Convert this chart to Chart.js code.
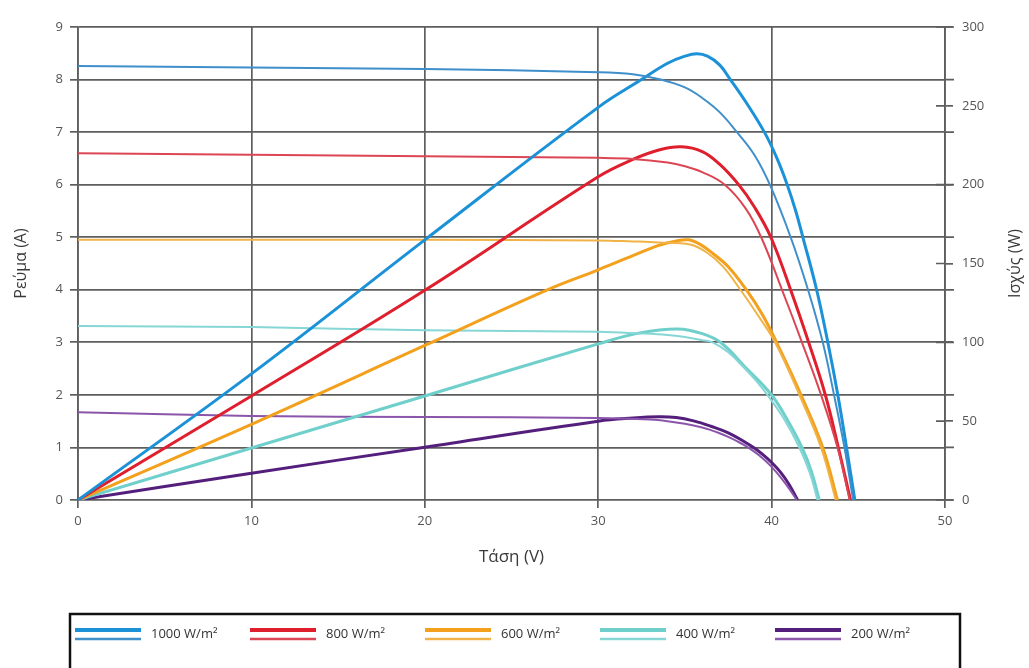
<!DOCTYPE html>
<html>
<head>
<meta charset="utf-8">
<script src="https://cdn.jsdelivr.net/npm/chart.js@4.4.0/dist/chart.umd.min.js"></script>
<style>
  html, body { margin: 0; padding: 0; background: #fff; }
  #wrap { width: 1029px; height: 668px; overflow: hidden; }
</style>
</head>
<body>
<div id="wrap"><canvas id="chart" width="1029" height="668"></canvas></div>
<script>
// legend labels
const irradiance = ['1000 W/m²', '800 W/m²', '600 W/m²', '400 W/m²', '200 W/m²'];

// current (A) vs voltage (V)
const v1000I = [0, 10, 20, 30, 32, 33.6, 35, 36, 37, 38, 39, 39.9, 41.1, 42.1, 42.95, 43.6, 44.2, 44.7];
const i1000 = [8.26, 8.23, 8.2, 8.14, 8.1, 8.0, 7.85, 7.65, 7.38, 7.0, 6.57, 6.0, 5.0, 4.0, 3.0, 2.0, 1.0, 0];
const v800I = [0, 10, 20, 30, 32, 34, 35, 36, 37.3, 38.5, 39.4, 40.6, 41.75, 42.85, 43.8, 44.5];
const i800 = [6.6, 6.57, 6.54, 6.51, 6.49, 6.42, 6.35, 6.24, 6.0, 5.55, 5.0, 4.0, 3.0, 2.0, 1.0, 0];
const v600I = [0, 10, 20, 30, 32, 33.5, 35.3, 36.3, 37.2, 38.2, 39.2, 40.2, 41.6, 42.85, 43.7];
const i600 = [4.95, 4.95, 4.95, 4.94, 4.92, 4.9, 4.86, 4.7, 4.44, 4.0, 3.52, 3.0, 2.0, 1.0, 0];
const v400I = [0, 10, 20, 30, 32.4, 34, 35, 36, 36.6, 37.5, 38.4, 39.1, 39.8, 40.7, 41.6, 42.2, 42.65];
const i400 = [3.31, 3.29, 3.23, 3.2, 3.17, 3.14, 3.1, 3.04, 3.0, 2.81, 2.52, 2.27, 1.98, 1.55, 1.0, 0.52, 0];
const v200I = [0, 10, 20, 30, 33, 34, 35, 36, 36.5, 37, 37.5, 38, 38.5, 39, 39.5, 40, 40.5, 41, 41.45];
const i200 = [1.67, 1.6, 1.58, 1.56, 1.53, 1.5, 1.45, 1.38, 1.33, 1.27, 1.2, 1.12, 1.03, 0.92, 0.79, 0.63, 0.44, 0.22, 0];

// power (W) vs voltage (V)
const v1000P = [0, 10, 20, 30, 32.4, 34, 35, 35.7, 36.3, 37, 37.6, 38.6, 39.6, 40.3, 40.9, 41.4, 41.8, 42.6, 43.25, 43.82, 44.32, 44.8];
const p1000 = [0, 80, 165, 249, 266, 277, 281.5, 283, 281.5, 276, 267, 251, 233, 217, 200, 183, 166.8, 133.2, 99.6, 66.6, 33.3, 0];
const v800P = [0, 10, 20, 30, 32, 33.5, 34.8, 36, 37, 38.1, 39, 39.95, 41.1, 42.15, 43.1, 43.85, 44.55];
const p800 = [0, 66, 133, 205, 216, 222, 224, 221, 213, 200, 186, 166.8, 133.2, 99.6, 66.6, 33.3, 0];
const v600P = [0, 10, 20, 27, 30, 32, 33.5, 34.5, 35.2, 35.9, 36.6, 37.5, 38.55, 39.5, 40.3, 41.7, 42.95, 43.8];
const p600 = [0, 48, 98, 133, 146, 155, 161.5, 164.3, 165, 162, 156.5, 148, 133.2, 117, 99.6, 66.6, 33.3, 0];
const v400P = [0, 10, 20, 30, 32.4, 34.6, 36, 37.1, 38.5, 40.0, 41.0, 41.75, 42.3, 42.75];
const p400 = [0, 33, 66, 99, 106, 108.5, 105.5, 99.6, 84, 66.6, 49, 33.3, 18, 0];
const v200P = [0, 10, 20, 30, 32, 33.5, 34.5, 35.5, 36.5, 37.5, 38.5, 39, 39.5, 40, 40.5, 41, 41.5];
const p200 = [0, 17, 33.5, 50, 52, 52.8, 52.3, 50.2, 46.8, 42.6, 36.5, 33, 28.8, 23.8, 17.8, 10, 0];

const currentV = [v1000I, v800I, v600I, v400I, v200I];
const currentA = [i1000, i800, i600, i400, i200];
const powerV = [v1000P, v800P, v600P, v400P, v200P];
const powerW = [p1000, p800, p600, p400, p200];

const thickColors = ['#1b91d7', '#df1f2d', '#f3a11d', '#6fcfcb', '#541f7c'];
const thinColors = ['#3f8fcb', '#dc4654', '#f1b347', '#86d6d6', '#8a55aa'];

const GRID = '#5e5e5e';
const TICK = '#555';
const FONT = "'Open Sans', sans-serif";

function points(xs, ys) {
    return xs.map((x, k) => ({ x: x, y: ys[k] }));
}

const datasets = [];
for (let k = 0; k < irradiance.length; k++) {
    datasets.push({
        label: irradiance[k] + ' I',
        data: points(currentV[k], currentA[k]),
        yAxisID: 'yA',
        borderColor: thinColors[k],
        borderWidth: 2,
    });
    datasets.push({
        label: irradiance[k] + ' P',
        data: points(powerV[k], powerW[k]),
        yAxisID: 'yP',
        borderColor: thickColors[k],
        borderWidth: 3,
    });
}

// grid stubs past the right axis, inner ticks, right title, boxed legend
const extras = {
    id: 'extras',
    afterDraw(chart) {
        const { ctx, chartArea, scales } = chart;
        ctx.save();
        ctx.strokeStyle = GRID;
        ctx.lineWidth = 1.7;
        ctx.beginPath();
        for (let t of scales.yA.ticks) {
            const y = scales.yA.getPixelForValue(t.value);
            ctx.moveTo(chartArea.right, y);
            ctx.lineTo(chartArea.right + 9, y);
        }
        for (let t of scales.yP.ticks) {
            const y = scales.yP.getPixelForValue(t.value);
            ctx.moveTo(chartArea.right - 9, y);
            ctx.lineTo(chartArea.right, y);
        }
        ctx.stroke();

        ctx.fillStyle = '#3a3a3a';
        ctx.font = "16px " + FONT;
        ctx.textAlign = 'center';
        ctx.textBaseline = 'middle';
        ctx.save();
        ctx.translate(scales.yP.right - 14, (chartArea.top + chartArea.bottom) / 2);
        ctx.rotate(-Math.PI / 2);
        ctx.fillText('Ισχύς (W)', 0, 0);
        ctx.restore();

        // legend
        ctx.strokeStyle = '#111';
        ctx.lineWidth = 2.5;
        ctx.strokeRect(70, 614, 890, 90);
        const y0 = 634;
        ctx.font = "13px " + FONT;
        ctx.textAlign = 'left';
        ctx.fillStyle = '#333';
        for (let k = 0; k < irradiance.length; k++) {
            const x0 = 75 + k * 175;
            ctx.lineWidth = 4;
            ctx.strokeStyle = thickColors[k];
            ctx.beginPath(); ctx.moveTo(x0, y0 - 4); ctx.lineTo(x0 + 66, y0 - 4); ctx.stroke();
            ctx.lineWidth = 2.5;
            ctx.strokeStyle = thinColors[k];
            ctx.beginPath(); ctx.moveTo(x0, y0 + 5); ctx.lineTo(x0 + 66, y0 + 5); ctx.stroke();
            ctx.fillText(irradiance[k], x0 + 76, y0);
        }
        ctx.restore();
    }
};

new Chart(document.getElementById('chart'), {
    type: 'line',
    data: { datasets: datasets },
    plugins: [extras],
    options: {
        responsive: false,
        animation: false,
        layout: { padding: { top: 27, right: 0, bottom: 88, left: 0 } },
        elements: {
            point: { radius: 0 },
            line: { tension: 0.4, fill: false },
        },
        plugins: { legend: { display: false }, tooltip: { enabled: false } },
        scales: {
            x: {
                type: 'linear', min: 0, max: 50,
                ticks: { stepSize: 10, color: TICK, font: { family: FONT, size: 13 }, padding: 5 },
                grid: { color: GRID, lineWidth: 1.7, tickLength: 8 },
                border: { display: false },
                title: { display: true, text: 'Τάση (V)', color: '#3a3a3a', font: { family: FONT, size: 17 }, padding: { top: 0, bottom: 13 } },
                afterFit(s) { s.height = 80; },
            },
            yA: {
                position: 'left', min: 0, max: 9,
                ticks: { stepSize: 1, color: TICK, font: { family: FONT, size: 13 }, padding: 7 },
                grid: { color: GRID, lineWidth: 1.7, tickLength: 8 },
                border: { display: true, color: GRID, width: 1.7 },
                title: { display: true, text: 'Ρεύμα (A)', color: '#3a3a3a', font: { family: FONT, size: 16 }, padding: { top: 12, bottom: 0 } },
                afterFit(s) { s.width = 78; },
            },
            yP: {
                position: 'right', min: 0, max: 300,
                ticks: { stepSize: 50, color: TICK, font: { family: FONT, size: 13 }, padding: 9 },
                grid: { drawOnChartArea: false, color: GRID, lineWidth: 1.7, tickLength: 8 },
                border: { display: true, color: GRID, width: 1.7 },
                afterFit(s) { s.width = 84; },
            },
        },
    },
});
</script>
</body>
</html>
